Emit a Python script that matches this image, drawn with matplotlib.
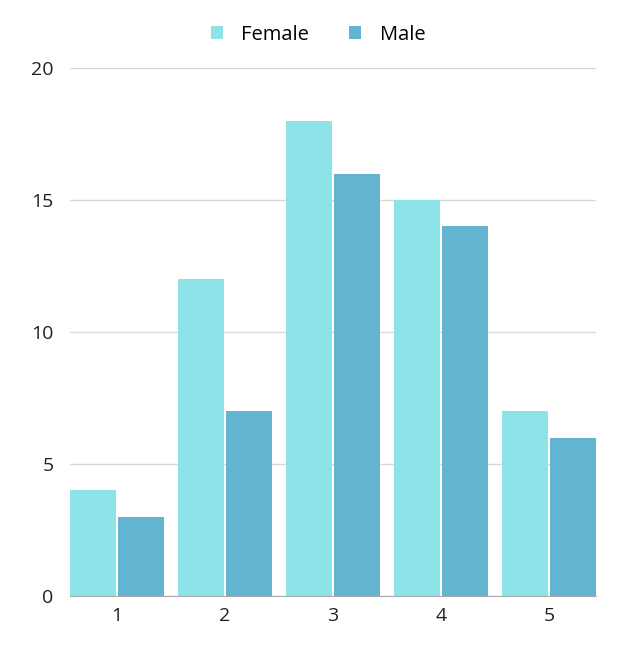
import matplotlib.pyplot as plt
import numpy as np

categories = ['1', '2', '3', '4', '5']
female = [4, 12, 18, 15, 7]
male = [3, 7, 16, 14, 6]

plt.rcParams['font.family'] = ['Open Sans', 'DejaVu Sans']

fig = plt.figure(figsize=(6.2, 6.6), dpi=100)
ax = fig.add_axes([0.113, 0.097, 0.848, 0.8])

x = np.arange(len(categories))
w = 0.426
ax.bar(x - 0.222, female, w, color='#8EE3E8', label='Female', zorder=3)
ax.bar(x + 0.222, male, w, color='#63B4D1', label='Male', zorder=3)

ax.set_xlim(-0.435, 4.435)
ax.set_ylim(0, 20)
ax.set_yticks([0, 5, 10, 15, 20])
ax.set_xticks(x)
ax.set_xticklabels(categories)
ax.tick_params(length=0, labelsize=14, colors='#222222', pad=8)
ax.tick_params(axis='y', pad=12)
ax.grid(axis='y', color='#d9d9d9', linewidth=1, zorder=0)
for s in ['top', 'right', 'left']:
    ax.spines[s].set_visible(False)
ax.spines['bottom'].set_color('#aaaaaa')
ax.spines['bottom'].set_zorder(4)

fig.legend(loc='center', bbox_to_anchor=(0.513, 0.947), ncol=2, frameon=False,
           fontsize=14.5, handlelength=0.6, handleheight=0.6, columnspacing=2.0,
           handletextpad=0.9)

fig.savefig('out.png')
